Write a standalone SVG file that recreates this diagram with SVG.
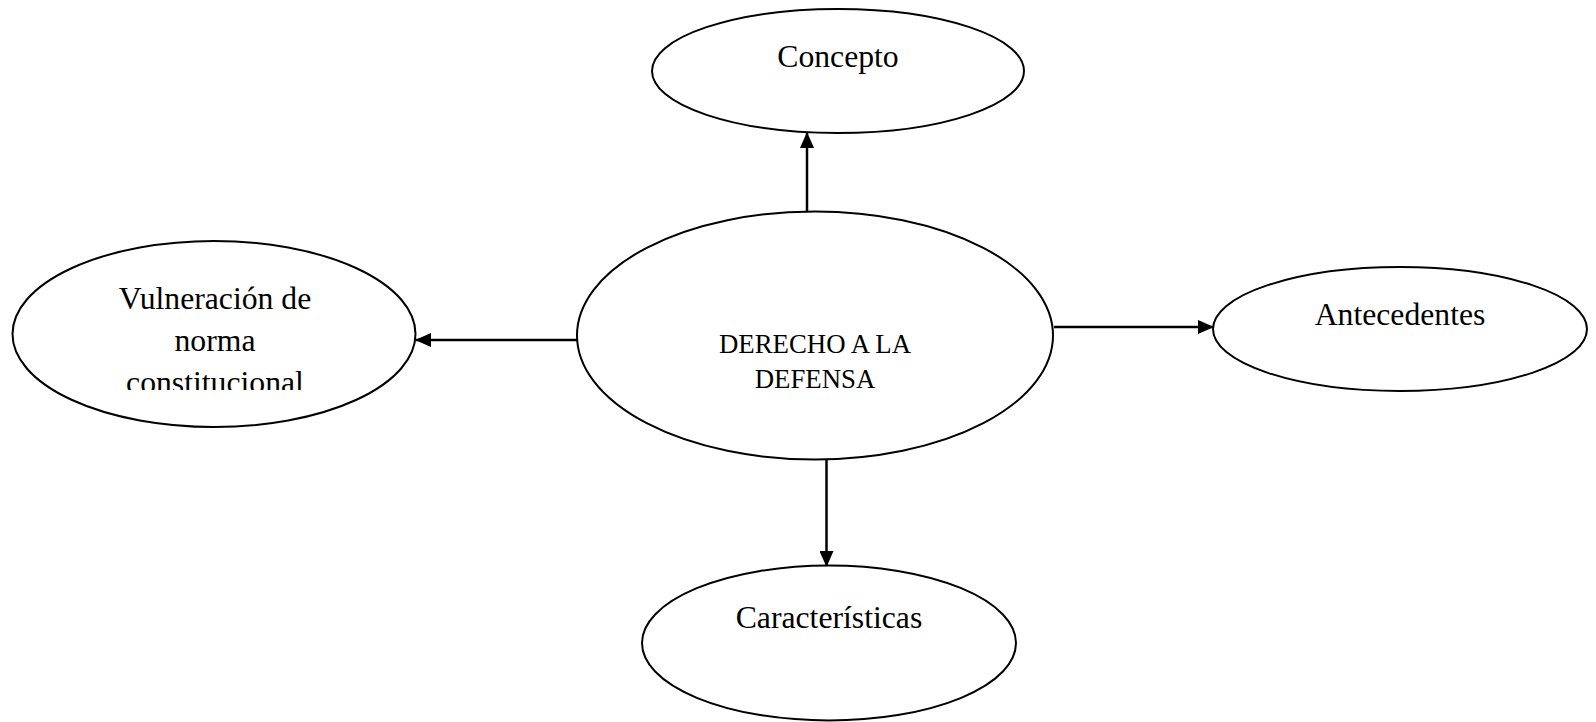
<svg xmlns="http://www.w3.org/2000/svg" width="1596" height="722" viewBox="0 0 1596 722">
<style>
.node{fill:#fff;stroke:#000;stroke-width:2}
.lbl{font-family:"Liberation Serif","Times New Roman",serif;font-size:31.7px;fill:#000;text-anchor:middle}
.lbl2{font-family:"Liberation Serif","Times New Roman",serif;font-size:26.8px;fill:#000;text-anchor:middle}
.edge{stroke:#000;stroke-width:2.5;fill:none;marker-end:url(#arr)}
</style>
<defs>
<marker id="arr" markerWidth="16" markerHeight="14" refX="15" refY="7" orient="auto" markerUnits="userSpaceOnUse">
<path d="M0,0 L16,7 L0,14 Z" fill="#000"/>
</marker>
<clipPath id="clipV"><rect x="0" y="230" width="430" height="160"/></clipPath>
</defs>
<g id="connectors">
<line class="edge" x1="807" y1="212" x2="807" y2="133"/>
<line class="edge" x1="1054" y1="327" x2="1213" y2="327"/>
<line class="edge" x1="577" y1="340" x2="416" y2="340"/>
<line class="edge" x1="826.5" y1="459" x2="826.5" y2="566"/>
</g>
<g id="concepto">
<ellipse class="node" cx="838" cy="71" rx="186" ry="62"/>
<text class="lbl" x="838" y="67">Concepto</text>
</g>
<g id="derecho">
<ellipse class="node" cx="815" cy="335.5" rx="238" ry="124"/>
<text class="lbl2" x="815" y="353">DERECHO A LA</text>
<text class="lbl2" x="815" y="388">DEFENSA</text>
</g>
<g id="antecedentes">
<ellipse class="node" cx="1400" cy="329" rx="187" ry="62"/>
<text class="lbl" x="1400" y="325">Antecedentes</text>
</g>
<g id="vulneracion">
<ellipse class="node" cx="214" cy="334" rx="201.5" ry="93"/>
<g clip-path="url(#clipV)">
<text class="lbl" x="215" y="309">Vulneración de</text>
<text class="lbl" x="215" y="351">norma</text>
<text class="lbl" x="215" y="393">constitucional</text>
</g>
</g>
<g id="caracteristicas">
<ellipse class="node" cx="829" cy="643" rx="187" ry="77.5"/>
<text class="lbl" x="829" y="628">Características</text>
</g>
</svg>
